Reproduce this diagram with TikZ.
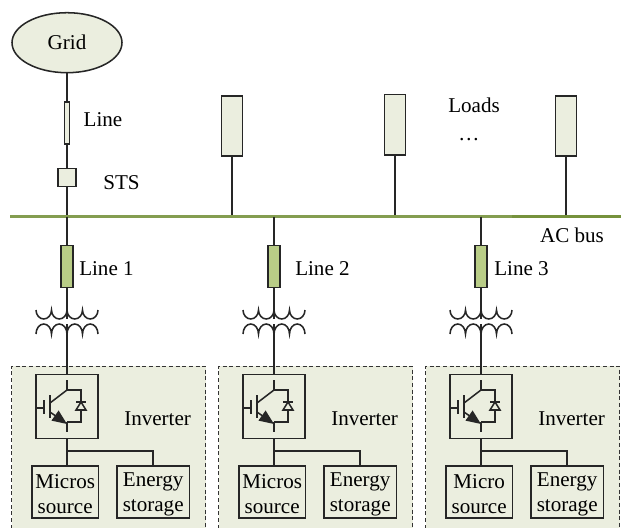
\documentclass[tikz,border=0pt]{standalone}
\usepackage{fontspec}
\setmainfont{Liberation Serif}
\usepackage{tikz}
\usetikzlibrary{shapes, arrows.meta}

\definecolor{panelfill}{HTML}{EBEEDF}
\definecolor{linefill}{HTML}{B9CD87}
\definecolor{busgreen}{HTML}{76923C}

\begin{document}
\begin{tikzpicture}[
		x=0.75pt, y=-0.75pt,
		wire/.style={line width=1.15pt, black!85},
		box/.style={draw=black!85, line width=1.15pt, fill=panelfill, inner sep=0pt},
		linebox/.style={draw=black!85, line width=1.15pt, fill=linefill, inner sep=0pt, minimum width=11.5*0.75pt, minimum height=42*0.75pt},
		loadbox/.style={box, minimum width=21*0.75pt, minimum height=60.5*0.75pt},
		srcbox/.style={draw=black!85, line width=1.15pt, inner sep=0pt, align=center, font=\fontsize{15.8}{18.75}\selectfont, minimum height=52*0.75pt},
		lbl/.style={font=\fontsize{15.8}{18.75}\selectfont, inner sep=0pt, anchor=base}
	]
	\useasboundingbox (0, 0) rectangle (621, 528);
	
	% grid side
	\node[ellipse, box, minimum width=110*0.75pt, minimum height=60*0.75pt, font=\fontsize{15.8}{18.75}\selectfont] (grid) at (67, 42.7) {Grid};
	\node[box, minimum width=5*0.75pt, minimum height=42*0.75pt] (line) at (67, 122.8) {};
	\node[box, minimum width=18.5*0.75pt, minimum height=18*0.75pt] (sts) at (67, 177.5) {};
	\coordinate (busgrid) at (67, 216.5);
	\draw[wire] (grid) -- (line);
	\draw[wire] (line) -- (sts);
	\draw[wire] (sts.south) -- (busgrid);
	\node[lbl] (linelbl) at (103, 126) {Line};
	\node[lbl] (stslbl) at (121.5, 189) {STS};
	
	% loads
	\foreach \name/\x/\y in {loada/232/126, loadb/395/124.8, loadc/566/126}{
		\node[loadbox] (\name) at (\x, \y) {};
		\coordinate (\name bus) at (\x, 216.5);
		\draw[wire] (\name) -- (\name bus);
	}
	\node[lbl] (loadslbl) at (474, 113) {Loads};
	\node[lbl] (dotslbl) at (469, 140) {\dots};
	
	% bus
	\coordinate (busl) at (10, 216.5);
	\coordinate (busm) at (512, 216.5);
	\coordinate (busr) at (621, 216.5);
	\draw[busgreen!90, line width=2.2pt] (busl) -- (busm);
	\draw[busgreen, line width=2.6pt] (busm) -- (busr);
	\node[lbl] (buslbl) at (572, 242) {AC bus};
	
	% three feeders
	\foreach \n/\x/\lx/\srcname in {1/67/12/Micros, 2/274/21/Micros, 3/481/13/Micro}{
		\begin{scope}[shift={(\x, 0)}]
			\coordinate (top\n) at (0, 216.5);
			\node[linebox] (line\n) at (0, 266.3) {};
			\node[lbl, anchor=base west] (line\n lbl) at (\lx, 275) {Line \n};
			\coordinate (tra\n) at (0, 319);
			\coordinate (trb\n) at (0, 324);
			\draw[wire] (top\n) -- (line\n);
			\draw[wire] (line\n) -- (tra\n);
			% transformer
			\draw[wire] (-31, 310) arc (180:0:7.75 and 9) arc (180:0:7.75 and 9) arc (180:0:7.75 and 9) arc (180:0:7.75 and 9);
			\draw[wire] (-31, 334) arc (180:360:7.75 and 10) arc (180:360:7.75 and 10) arc (180:360:7.75 and 10) arc (180:360:7.75 and 10);
			
			\draw[densely dashed, line width=0.75pt, draw=black!80, fill=panelfill] (-55.5, 528.5) -- (-55.5, 366) -- (138.5, 366) -- (138.5, 528.5);
			\node[box, minimum width=62*0.75pt, minimum height=64*0.75pt] (inv\n) at (0, 406.3) {};
			\node[lbl] (inv\n lbl) at (90.6, 425) {Inverter};
			\node[srcbox, minimum width=66.5*0.75pt] (src\n) at (-1.8, 492) {\rule{0pt}{14pt}\srcname\\source};
			\node[srcbox, minimum width=72.5*0.75pt] (sto\n) at (86.2, 492) {\rule{0pt}{14pt}Energy\\storage};
			\coordinate (jun\n) at (0, 451);
			\draw[wire] (trb\n) -- (inv\n);
			\draw[wire] (inv\n.south) -- (inv\n.south |- src\n.north);
			\draw[wire] (jun\n) -| (sto\n);
			
			% igbt and diode
			\draw[wire] (0, 380) -- (0, 390) -- (-17, 403);
			\draw[wire, -{Triangle[length=11pt, width=9pt]}] (-17, 412) -- (0, 424);
			\draw[wire] (0, 422) -- (0, 432);
			\draw[wire] (-17, 395) -- (-17, 418);
			\draw[wire] (-30, 408) -- (-23, 408);
			\draw[wire] (-23, 400) -- (-23, 414);
			\draw[wire] (0, 390) -- (14, 390) -- (14, 422) -- (0, 422);
			\draw[wire, fill=panelfill] (14, 402) -- (9, 410) -- (19, 410) -- cycle;
			\draw[wire] (9, 402) -- (19, 402);
		\end{scope}
	}
\end{tikzpicture}
\end{document}
